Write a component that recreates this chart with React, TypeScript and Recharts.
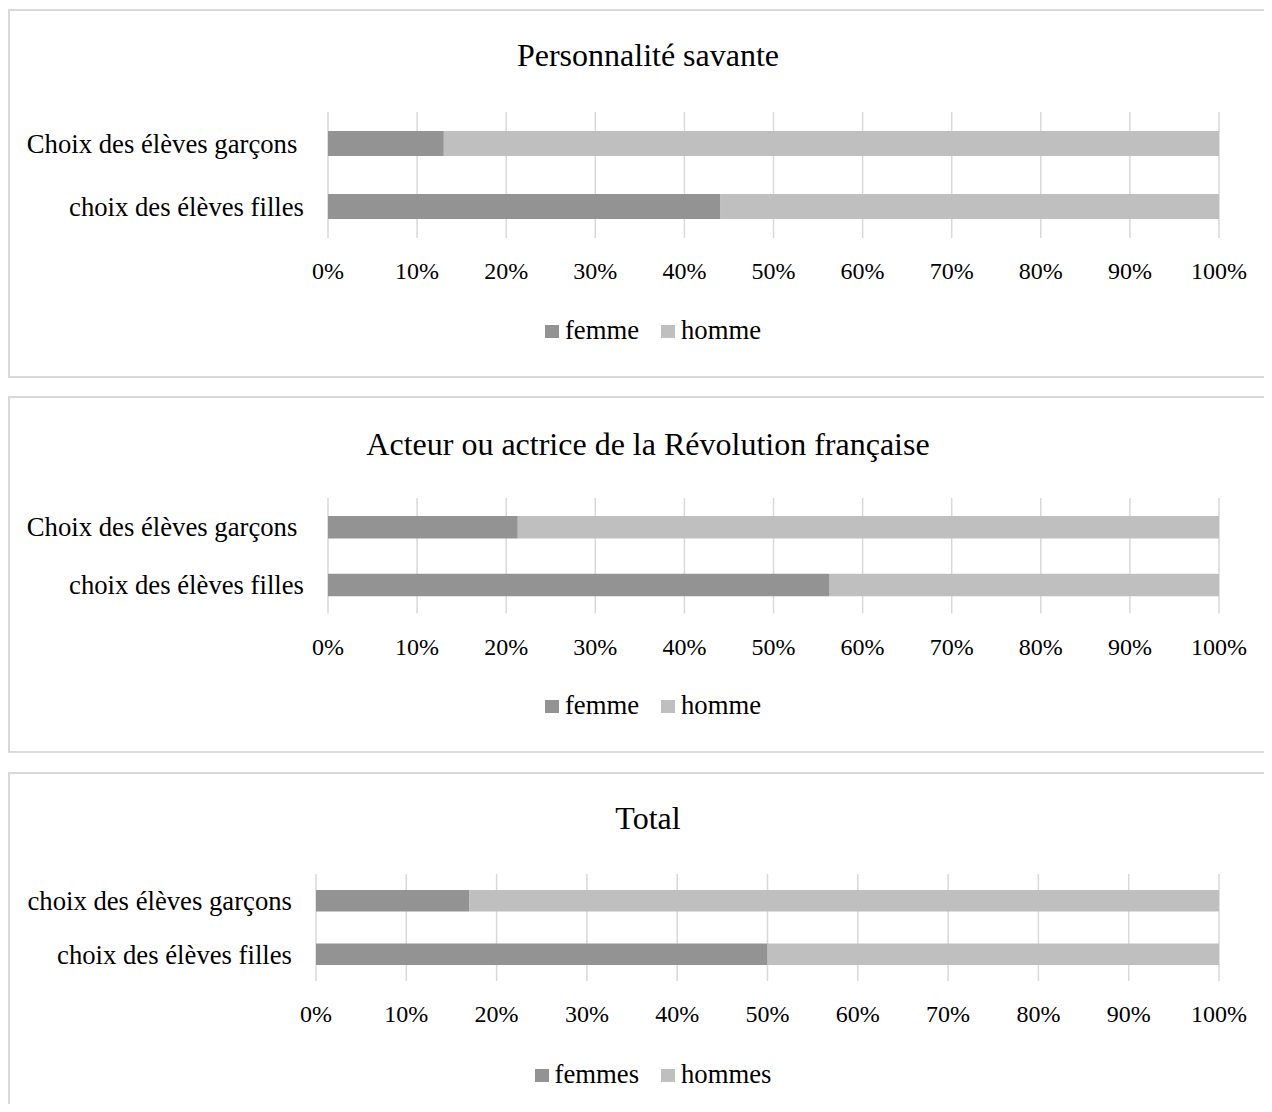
import React from 'react'
import { BarChart, Bar, XAxis, YAxis, CartesianGrid, Legend } from 'recharts'

// values, in percent
const categoriesSavante = ['Choix des élèves garçons\u00A0', 'choix des élèves filles']
const femmeSavante = [13, 44]
const hommeSavante = [87, 56]

const categoriesRevolution = ['Choix des élèves garçons\u00A0', 'choix des élèves filles']
const femmeRevolution = [21.3, 56.3]
const hommeRevolution = [78.7, 43.7]

const categoriesTotal = ['choix des élèves garçons', 'choix des élèves filles']
const femmesTotal = [17, 50]
const hommesTotal = [83, 50]

const xTicks = [0, 10, 20, 30, 40, 50, 60, 70, 80, 90, 100]

const FONT = "'Liberation Serif', 'Times New Roman', serif"
const DARK = '#939393'
const LIGHT = '#bfbfbf'
const GRID = '#d9d9d9'
const CHART_W = 1280

type PanelProps = {
  title: string
  categories: string[]
  first: number[]
  second: number[]
  names: [string, string]
  top: number
  height: number
  chartHeight: number
  titleTop: number
  yWidth: number
  marginTop: number
  marginBottom: number
  barSize: number
  legendTop: number
}

function LegendContent({ names }: { names: [string, string] }) {
  const colors = [DARK, LIGHT]
  return (
    <div
      style={{
        display: 'flex',
        justifyContent: 'center',
        alignItems: 'center',
        height: 30,
        paddingLeft: 10,
        fontFamily: FONT,
        fontSize: 26.7,
        lineHeight: '30px',
        color: '#000',
      }}
    >
      {names.map((n, i) => (
        <div key={n} style={{ display: 'flex', alignItems: 'center', marginLeft: i ? 22 : 0 }}>
          <span style={{ display: 'inline-block', width: 14, height: 13, background: colors[i], marginRight: 6, marginTop: 3 }} />
          <span>{n}</span>
        </div>
      ))}
    </div>
  )
}

function Panel(p: PanelProps) {
  const data = p.categories.map((name, i) => ({ name, a: p.first[i], b: p.second[i] }))
  return (
    <>
      <div
        style={{
          position: 'absolute',
          left: 0,
          top: p.top,
          width: 1290,
          height: p.height,
          border: `2px solid ${GRID}`,
          boxSizing: 'border-box',
        }}
      />
      <div
        style={{
          position: 'absolute',
          left: 0,
          top: p.titleTop,
          width: CHART_W,
          height: 40,
          lineHeight: '40px',
          textAlign: 'center',
          fontFamily: FONT,
          fontSize: 32,
          color: '#000',
        }}
      >
        {p.title}
      </div>
      <div style={{ position: 'absolute', left: 0, top: p.top }}>
        <BarChart
          width={CHART_W}
          height={p.chartHeight}
          data={data}
          layout="vertical"
          margin={{ top: p.marginTop, right: CHART_W - 1211, bottom: p.marginBottom, left: 0 }}
        >
          <CartesianGrid horizontal={false} stroke={GRID} strokeWidth={1.5} />
          <XAxis
            type="number"
            domain={[0, 100]}
            ticks={xTicks}
            tickFormatter={(v: number) => `${v}%`}
            axisLine={false}
            tickLine={false}
            tickSize={0}
            tickMargin={24}
            height={60}
            interval={0}
            tick={{ fontFamily: FONT, fontSize: 24, fill: '#000' }}
          />
          <YAxis
            type="category"
            dataKey="name"
            width={p.yWidth}
            axisLine={false}
            tickLine={false}
            tickSize={0}
            tickMargin={24}
            interval={0}
            tick={{ fontFamily: FONT, fontSize: 26.7, fill: '#000' }}
          />
          <Legend
            verticalAlign="middle"
            align="center"
            wrapperStyle={{ top: p.legendTop, left: 0, width: CHART_W }}
            content={() => <LegendContent names={p.names} />}
          />
          <Bar dataKey="a" name={p.names[0]} stackId="s" fill={DARK} barSize={p.barSize} isAnimationActive={false} />
          <Bar dataKey="b" name={p.names[1]} stackId="s" fill={LIGHT} barSize={p.barSize} isAnimationActive={false} />
        </BarChart>
      </div>
    </>
  )
}

export default function App() {
  return (
    <>
      <style>{'html, body { overflow: hidden; }'}</style>
      <div
        style={{
          position: 'relative',
          width: 1264,
          height: 1104,
          marginBottom: -8,
          overflow: 'hidden',
          background: '#fff',
        }}
      >
        <Panel
          title="Personnalité savante"
          categories={categoriesSavante}
          first={femmeSavante}
          second={hommeSavante}
          names={['femme', 'homme']}
          top={1}
          height={369}
          chartHeight={369}
          titleTop={27}
          yWidth={320}
          marginTop={103}
          marginBottom={80}
          barSize={25}
          legendTop={306}
        />
        <Panel
          title="Acteur ou actrice de la Révolution française"
          categories={categoriesRevolution}
          first={femmeRevolution}
          second={hommeRevolution}
          names={['femme', 'homme']}
          top={388}
          height={357}
          chartHeight={357}
          titleTop={415.5}
          yWidth={320}
          marginTop={102}
          marginBottom={79.5}
          barSize={22.5}
          legendTop={294}
        />
        <Panel
          title="Total"
          categories={categoriesTotal}
          first={femmesTotal}
          second={hommesTotal}
          names={['femmes', 'hommes']}
          top={764}
          height={400}
          chartHeight={340}
          titleTop={789.5}
          yWidth={308}
          marginTop={102}
          marginBottom={71}
          barSize={21.5}
          legendTop={287}
        />
      </div>
    </>
  )
}
